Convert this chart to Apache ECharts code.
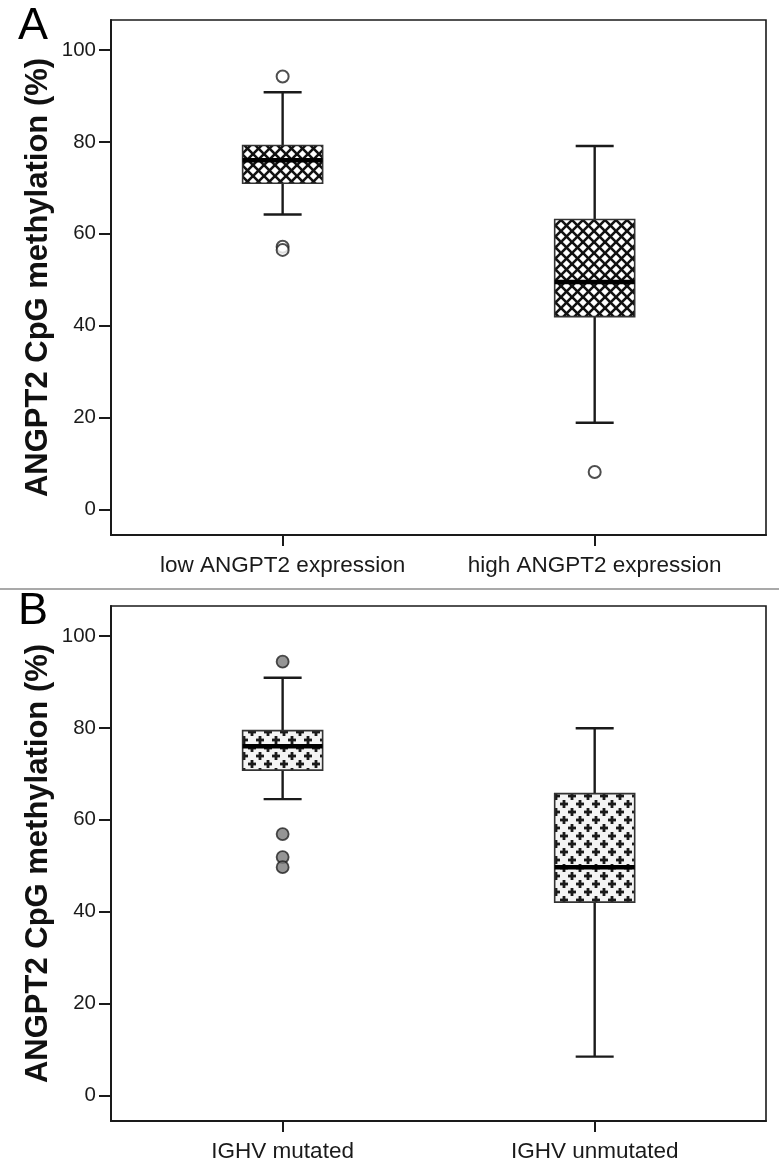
<!DOCTYPE html>
<html><head><meta charset="utf-8">
<script src="https://cdn.jsdelivr.net/npm/echarts@6/dist/echarts.min.js"></script>
<style>html,body{margin:0;padding:0;background:#fff}#c{width:779px;height:1175px}</style>
</head><body><div id="c"></div>
<script>
// ---- data ----
const panelLabels = ['A', 'B'];
const yTicks = [0, 20, 40, 60, 80, 100];
const yTitle = 'ANGPT2 CpG methylation (%)';
const categoriesA = ['low ANGPT2 expression', 'high ANGPT2 expression'];
const categoriesB = ['IGHV mutated', 'IGHV unmutated'];
// each box: [lower whisker, Q1, median, Q3, upper whisker]
const boxesA = [[64.2, 71.0, 76.0, 79.2, 90.8], [18.9, 42.0, 49.5, 63.1, 79.1]];
const outliersA = [[0, 94.2], [0, 57.2], [0, 56.5], [1, 8.2]];
const boxesB = [[64.5, 70.8, 76.0, 79.4, 90.9], [8.5, 42.1, 49.7, 65.7, 79.9]];
const outliersB = [[0, 94.4], [0, 56.9], [0, 51.9], [0, 49.7]];

// ---- patterns ----
function crossHatch() {
  const s = 11, c = document.createElement('canvas');
  c.width = s; c.height = s;
  const g = c.getContext('2d');
  g.fillStyle = '#fff'; g.fillRect(0, 0, s, s);
  g.strokeStyle = '#111'; g.lineWidth = 2.6;
  for (const k of [-s, 0, s]) {
    g.beginPath(); g.moveTo(k - 2, -2); g.lineTo(k + s + 2, s + 2); g.stroke();
    g.beginPath(); g.moveTo(k - 2, s + 2); g.lineTo(k + s + 2, -2); g.stroke();
  }
  return c;
}
function plusPattern() {
  const s = 16, c = document.createElement('canvas');
  c.width = s; c.height = s;
  const g = c.getContext('2d');
  g.fillStyle = '#f4f4f4'; g.fillRect(0, 0, s, s);
  g.fillStyle = '#1a1a1a';
  const plus = (x, y) => { g.fillRect(x - 4, y - 1.4, 8, 2.8); g.fillRect(x - 1.4, y - 4, 2.8, 8); };
  plus(4, 4); plus(12, 12);
  return c;
}
const patA = { image: crossHatch(), repeat: 'repeat' };
const patB = { image: plusPattern(), repeat: 'repeat' };

function boxRenderer(pattern) {
  return function (params, api) {
    const x = api.value(0);
    const lo = api.coord([x, api.value(1)]);
    const q1 = api.coord([x, api.value(2)]);
    const md = api.coord([x, api.value(3)]);
    const q3 = api.coord([x, api.value(4)]);
    const hi = api.coord([x, api.value(5)]);
    const cx = lo[0], hw = 40, cw = 19;
    const ls = { stroke: '#1a1a1a', lineWidth: 2.4 };
    return {
      type: 'group',
      children: [
        { type: 'line', shape: { x1: cx, y1: hi[1], x2: cx, y2: q3[1] }, style: ls },
        { type: 'line', shape: { x1: cx, y1: q1[1], x2: cx, y2: lo[1] }, style: ls },
        { type: 'line', shape: { x1: cx - cw, y1: hi[1], x2: cx + cw, y2: hi[1] }, style: ls },
        { type: 'line', shape: { x1: cx - cw, y1: lo[1], x2: cx + cw, y2: lo[1] }, style: ls },
        { type: 'rect', shape: { x: cx - hw, y: q3[1], width: 2 * hw, height: q1[1] - q3[1] },
          style: { fill: pattern, stroke: '#333', lineWidth: 1.6 } },
        { type: 'line', shape: { x1: cx - hw, y1: md[1], x2: cx + hw, y2: md[1] },
          style: { stroke: '#000', lineWidth: 4.5 } }
      ]
    };
  };
}

const grids = [
  { left: 111, right: 13, top: 20, height: 515 },
  { left: 111, right: 13, top: 606, height: 515 }
];
const cats = [categoriesA, categoriesB];
const FONT = 'Liberation Sans, Arial, sans-serif';

function xAxisFor(i) {
  return {
    type: 'value', gridIndex: i, min: -0.55, max: 1.549,
    axisLine: { show: true, onZero: false, lineStyle: { color: '#1a1a1a', width: 2 } },
    axisTick: { show: true, customValues: [0, 1], length: 11, lineStyle: { color: '#1a1a1a', width: 2 } },
    axisLabel: { customValues: [0, 1], formatter: v => cats[i][Math.round(v)], margin: 19,
      fontFamily: FONT, fontSize: 22.5, color: '#1a1a1a' },
    splitLine: { show: false }
  };
}
function yAxisFor(i) {
  return {
    type: 'value', gridIndex: i, min: -5.5, max: 106.5,
    name: yTitle, nameLocation: 'middle', nameGap: 57, nameRotate: 90, nameMoveOverlap: false,
    nameTextStyle: { fontFamily: FONT, fontSize: 31, fontWeight: 'bold', color: '#111' },
    axisLine: { show: true, onZero: false, lineStyle: { color: '#1a1a1a', width: 2 } },
    axisTick: { show: true, customValues: yTicks, length: 12, lineStyle: { color: '#1a1a1a', width: 2 } },
    axisLabel: { customValues: yTicks, margin: 15, fontFamily: FONT, fontSize: 20.5, color: '#1a1a1a' },
    splitLine: { show: false }
  };
}

const chart = echarts.init(document.getElementById('c'), null, { renderer: 'canvas' });
chart.setOption({
  animation: false,
  backgroundColor: '#fff',
  title: [
    { text: panelLabels[0], left: 13, top: -1, textStyle: { fontFamily: FONT, fontSize: 45, fontWeight: 'normal', color: '#000' } },
    { text: panelLabels[1], left: 13, top: 584, textStyle: { fontFamily: FONT, fontSize: 45, fontWeight: 'normal', color: '#000' } }
  ],
  graphic: [
    { type: 'line', shape: { x1: 0, y1: 589, x2: 779, y2: 589 }, style: { stroke: '#8c8c8c', lineWidth: 1.5 } }
  ],
  grid: grids.map(g => Object.assign({ show: true, borderColor: '#1a1a1a', borderWidth: 1.6, backgroundColor: 'transparent' }, g)),
  xAxis: [xAxisFor(0), xAxisFor(1)],
  yAxis: [yAxisFor(0), yAxisFor(1)],
  series: [
    { type: 'custom', xAxisIndex: 0, yAxisIndex: 0, renderItem: boxRenderer(patA),
      data: boxesA.map((b, i) => [i].concat(b)), encode: { x: 0, y: [1, 2, 3, 4, 5] } },
    { type: 'scatter', xAxisIndex: 0, yAxisIndex: 0, data: outliersA, symbol: 'circle', symbolSize: 12,
      itemStyle: { color: '#fff', borderColor: '#222', borderWidth: 2 } },
    { type: 'custom', xAxisIndex: 1, yAxisIndex: 1, renderItem: boxRenderer(patB),
      data: boxesB.map((b, i) => [i].concat(b)), encode: { x: 0, y: [1, 2, 3, 4, 5] } },
    { type: 'scatter', xAxisIndex: 1, yAxisIndex: 1, data: outliersB, symbol: 'circle', symbolSize: 12,
      itemStyle: { color: '#7a7a7a', borderColor: '#222', borderWidth: 1.8 } }
  ]
});
</script></body></html>
